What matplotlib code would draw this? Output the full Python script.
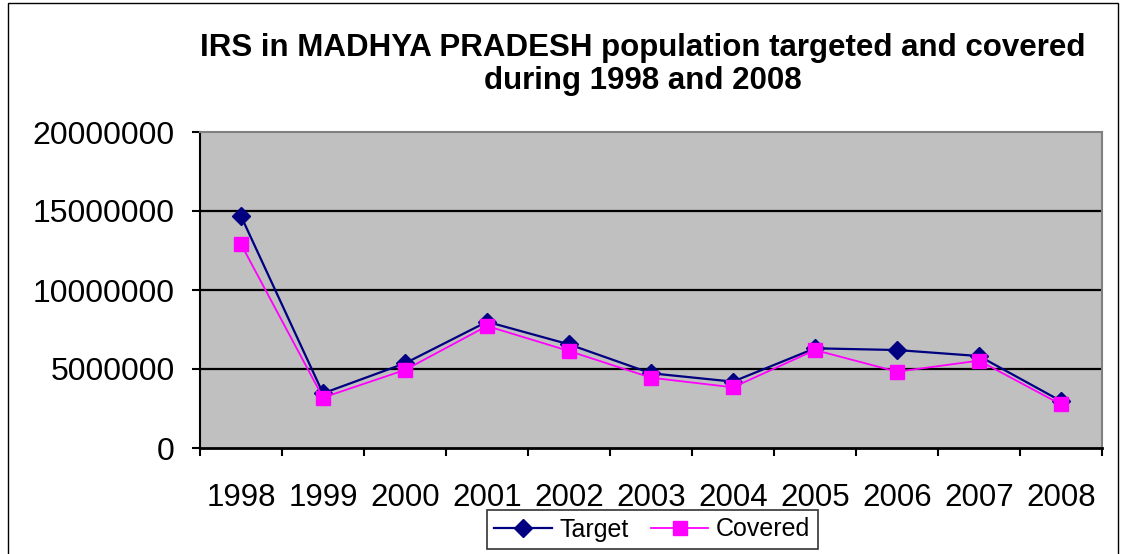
import numpy as np
import matplotlib
matplotlib.use('Agg')
import matplotlib.pyplot as plt
from matplotlib.patches import Rectangle

years = ['1998', '1999', '2000', '2001', '2002', '2003', '2004', '2005', '2006', '2007', '2008']
target = [14680000, 3460000, 5360000, 7990000, 6560000, 4730000, 4200000, 6310000, 6200000, 5820000, 2970000]
covered = [12900000, 3190000, 4940000, 7720000, 6140000, 4450000, 3840000, 6200000, 4830000, 5530000, 2760000]
yticks = [0, 5000000, 10000000, 15000000, 20000000]

plt.rcParams['font.family'] = ['Liberation Sans', 'DejaVu Sans']

fig = plt.figure(figsize=(11.22, 5.54), dpi=100)
ax = fig.add_axes([200/1122, 1-448/554, 902/1122, 316/554])
ax.set_facecolor('#C0C0C0')

x = np.arange(len(years))
ax.plot(x, target, color='#000080', lw=1.6, marker='D', ms=9, label='Target', zorder=3)
ax.plot(x, covered, color='#FF00FF', lw=1.3, marker='s', ms=10.5, label='Covered', zorder=4)

ax.set_xlim(-0.5, len(years) - 0.5)
ax.set_ylim(0, 20000000)
ax.set_yticks(yticks)
ax.set_yticklabels([str(v) for v in yticks], fontsize=23)
ax.set_xticks(x)
ax.set_xticklabels(years, fontsize=22.5)
ax.set_xticks(np.arange(-0.5, len(years)), minor=True)
ax.tick_params(axis='x', which='major', length=0, pad=25)
ax.tick_params(axis='x', which='minor', length=6, width=1.5, direction='out')
ax.tick_params(axis='y', length=6, width=1.5, pad=12, direction='out')

for v in yticks[1:-1]:
    ax.axhline(v, color='black', lw=1.6, zorder=1)

ax.spines['left'].set_linewidth(1.5)
ax.spines['bottom'].set_linewidth(2)
ax.spines['top'].set_color('#808080')
ax.spines['right'].set_color('#808080')
ax.spines['top'].set_linewidth(1.5)
ax.spines['right'].set_linewidth(1.5)

fig.text(643/1122, 1-48/554, 'IRS in MADHYA PRADESH population targeted and covered',
         ha='center', va='center', fontsize=22.5, fontweight='bold')
fig.text(643/1122, 1-81/554, 'during 1998 and 2008',
         ha='center', va='center', fontsize=22.5, fontweight='bold')

leg = fig.legend(loc='upper center', bbox_to_anchor=(652/1122, 1-510/554), ncol=2,
                 fontsize=18, frameon=True, fancybox=False, edgecolor='black',
                 handlelength=2.3, borderpad=0.3, columnspacing=0.9, handletextpad=0.3,
                 borderaxespad=0)
leg.get_frame().set_linewidth(1.2)

fig.patches.append(Rectangle((8/1122, -0.01), 1110/1122, 1-3/554+0.01, transform=fig.transFigure,
                             fill=False, edgecolor='black', lw=1))

fig.savefig('out.png', dpi=100)
